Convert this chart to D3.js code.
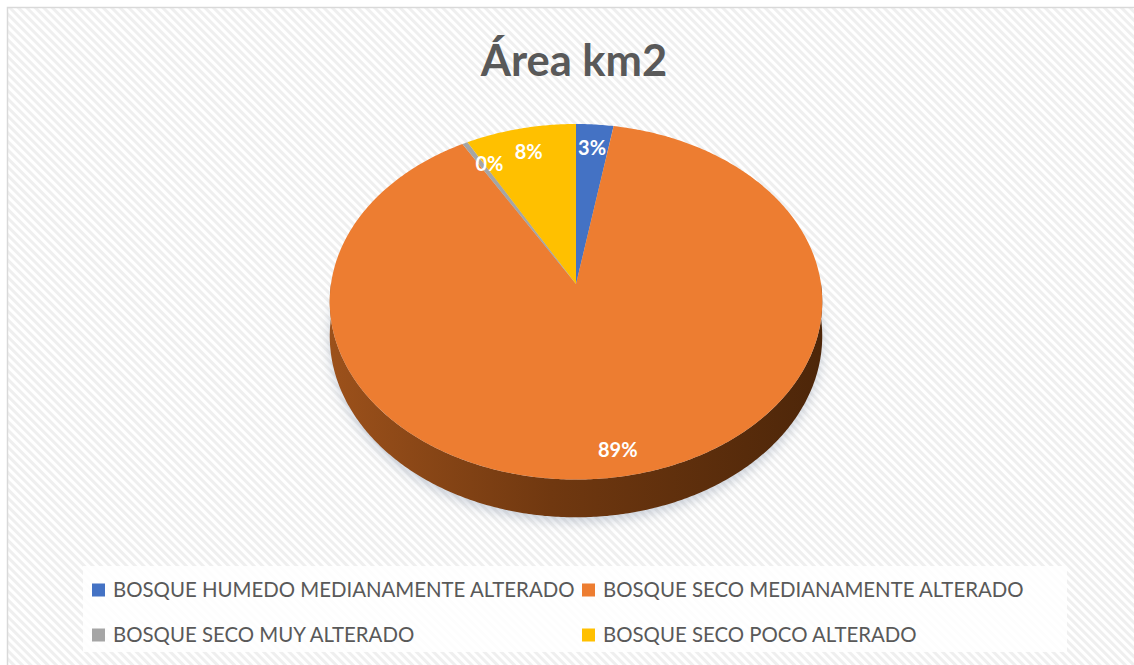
<!DOCTYPE html>
<html>
<head>
<meta charset="utf-8">
<script src="https://cdn.jsdelivr.net/npm/d3@7"></script>
<style>
  html, body { margin: 0; padding: 0; background: #fff; }
  svg { display: block; }
</style>
</head>
<body>
<div id="chart"></div>
<script>
"use strict";

// Data (share of area, %)
const categories = [
    "BOSQUE HUMEDO MEDIANAMENTE ALTERADO",
    "BOSQUE SECO MEDIANAMENTE ALTERADO",
    "BOSQUE SECO MUY ALTERADO",
    "BOSQUE SECO POCO ALTERADO"
];
const shares = [2.7, 88.9, 0.4, 8.0];
const colors = ["#4472c4", "#ed7d31", "#a5a5a5", "#ffc000"];
const title = "Área km2";

const svgWidth = 1134;
const svgHeight = 665;

const svg = d3.select("#chart")
    .append("svg")
    .attr("width", svgWidth)
    .attr("height", svgHeight);

const defs = svg.append("defs");

// striped chart background
const pat = defs.append("pattern")
    .attr("id", "stripes")
    .attr("patternUnits", "userSpaceOnUse")
    .attr("width", 6)
    .attr("height", 6)
    .attr("patternTransform", "rotate(-45)");
pat.append("rect").attr("width", 6).attr("height", 6).attr("fill", "#ffffff");
pat.append("rect").attr("width", 3).attr("height", 6).attr("fill", "#efefef");

const wallGrad = defs.append("linearGradient")
    .attr("id", "wallGrad")
    .attr("x1", "0%").attr("x2", "100%").attr("y1", "0%").attr("y2", "0%");
wallGrad.append("stop").attr("offset", "0%").attr("stop-color", "#9c511b");
wallGrad.append("stop").attr("offset", "45%").attr("stop-color", "#703810");
wallGrad.append("stop").attr("offset", "100%").attr("stop-color", "#4d2609");

defs.append("filter")
    .attr("id", "blur")
    .attr("x", "-20%").attr("y", "-20%").attr("width", "140%").attr("height", "140%")
    .append("feGaussianBlur")
    .attr("stdDeviation", 6);

svg.append("rect")
    .attr("x", 7.5)
    .attr("y", 7.5)
    .attr("width", svgWidth + 20)
    .attr("height", svgHeight + 20)
    .attr("fill", "url(#stripes)")
    .attr("stroke", "#d9d9d9")
    .attr("stroke-width", 1.5);

// title
svg.append("text")
    .attr("x", 574)
    .attr("y", 76)
    .attr("text-anchor", "middle")
    .attr("font-family", "Lato, 'Open Sans', sans-serif")
    .attr("font-weight", "bold")
    .attr("font-size", 43.5)
    .attr("fill", "#595959")
    .text(title);

// 3D pie projection (slight perspective)
const cx = 576, cy = 284, rx = 245, ry = 176, k = 0.1, depth = 34;

function proj(theta, r, z) {
    const u = Math.sin(theta) * r;
    const v = -Math.cos(theta) * r;
    const p = 1 / (1 - k * v);
    return [cx + rx * u * p, cy + ry * v * p + (z || 0) * p];
}

function sample(a0, a1, r, z) {
    const n = Math.max(2, Math.ceil(Math.abs(a1 - a0) / 0.01));
    const pts = [];
    for (let i = 0; i <= n; i++) {
        pts.push(proj(a0 + (a1 - a0) * i / n, r, z));
    }
    return pts;
}

const line = d3.line().curve(d3.curveLinearClosed);

const pie = d3.pie().sort(null).value(d => d);
const arcs = pie(shares);

// shadow under the pie
const shadowPts = sample(0, 2 * Math.PI, 1.0, depth + 4);
svg.append("path")
    .attr("d", line(shadowPts))
    .attr("fill", "#8c99ad")
    .attr("opacity", 0.45)
    .attr("filter", "url(#blur)");

// outer wall (front part)
const g = svg.append("g");
arcs.forEach((a, i) => {
    const s = Math.max(a.startAngle, Math.PI / 2);
    const e = Math.min(a.endAngle, 3 * Math.PI / 2);
    if (e <= s) return;
    const top = sample(s, e, 1, 0);
    const bottom = sample(e, s, 1, depth);
    g.append("path")
        .attr("d", line(top.concat(bottom)))
        .attr("fill", i === 1 ? "url(#wallGrad)" : d3.color(colors[i]).darker(1.3));
});

// top faces
arcs.forEach((a, i) => {
    const pts = [proj(0, 0, 0)].concat(sample(a.startAngle, a.endAngle, 1, 0));
    g.append("path")
        .attr("d", line(pts))
        .attr("fill", colors[i]);
});

// data labels
const total = d3.sum(shares);
const fmt = d3.format(".0%");
arcs.forEach((a, i) => {
    const mid = (a.startAngle + a.endAngle) / 2;
    const r = a.value > 50 ? 0.875 : 0.84;
    let [lx, ly] = proj(mid, r, 0);
    if (a.value < 1) lx += 8;
    g.append("text")
        .attr("x", lx)
        .attr("y", ly)
        .attr("dy", "0.35em")
        .attr("text-anchor", "middle")
        .attr("font-family", "Lato, 'Open Sans', sans-serif")
        .attr("font-weight", "bold")
        .attr("font-size", 20)
        .attr("fill", "#ffffff")
        .text(fmt(a.value / total));
});

// legend
const legend = svg.append("g");
legend.append("rect")
    .attr("x", 83)
    .attr("y", 566)
    .attr("width", 984)
    .attr("height", 86)
    .attr("fill", "#ffffff")
    .attr("opacity", 0.85);

const colX = [92, 582];
const rowY = [590, 635];
categories.forEach((c, i) => {
    const x = colX[i % 2];
    const y = rowY[Math.floor(i / 2)];
    legend.append("rect")
        .attr("x", x)
        .attr("y", y - 6.5)
        .attr("width", 13)
        .attr("height", 13)
        .attr("fill", colors[i]);
    legend.append("text")
        .attr("x", x + 21)
        .attr("y", y)
        .attr("dy", "0.36em")
        .attr("font-family", "Lato, 'Open Sans', sans-serif")
        .attr("font-size", 20.4)
        .attr("fill", "#595959")
        .text(c);
});
</script>
</body>
</html>
